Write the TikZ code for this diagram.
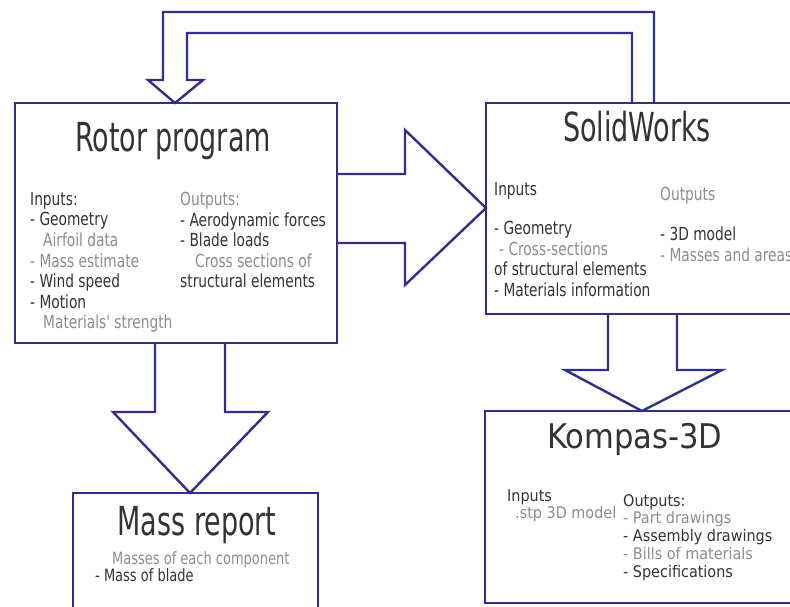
\documentclass[tikz,border=0pt]{standalone}
\usepackage{fontspec}
\setmainfont{DejaVu Sans Condensed}
\newfontfamily\cadfont[FakeStretch=0.75]{DejaVu Sans Condensed}
\newfontfamily\notefont[FakeStretch=0.85]{DejaVu Sans Condensed}
\definecolor{rimblue}{RGB}{48,48,140}
\colorlet{ink}{black!80}
\colorlet{pale}{black!45}
\newcommand{\dimtxt}[1]{\textcolor{pale}{#1}}

\begin{document}
\begin{tikzpicture}[x=1pt, y=-1pt,
        box/.style={draw=rimblue, line width=2.4pt, inner sep=0pt, outer sep=0pt},
        blk/.style={draw=rimblue, line width=2.4pt, line join=miter},
        ttl/.style={font=\cadfont\fontsize{40}{40}\selectfont, text=ink, inner sep=0pt, anchor=base},
        note/.style={font=\notefont\fontsize{18}{20.6}\selectfont, text=ink, align=left, inner sep=0pt, anchor=north west}]
        \useasboundingbox (0,0) rectangle (790,607);
        \clip (0,0) rectangle (790,607);

        \node[box, minimum width=322pt, minimum height=240pt] (rotor) at (176,223) {};
        \node[box, minimum width=314pt, minimum height=211pt] (solid) at (643,208.5) {};
        \node[box, minimum width=245pt, minimum height=127pt] (mass) at (195.5,556.5) {};
        \node[box, minimum width=315pt, minimum height=192pt] (kompas) at (642.5,507) {};

        \node[ttl] (rotorttl) at (173,152) {Rotor program};
        \node[note] (rotorin) at (30,192) {Inputs:\\- Geometry\\\hspace*{13pt}\dimtxt{Airfoil data}\\\dimtxt{- Mass estimate}\\- Wind speed\\- Motion\\\hspace*{13pt}\dimtxt{Materials' strength}};
        \node[note] (rotorout) at (180,192) {\dimtxt{Outputs:}\\- Aerodynamic forces\\- Blade loads\\\hspace*{15pt}\dimtxt{Cross sections of}\\structural elements};

        \node[ttl] (solidttl) at (637,142) {SolidWorks};
        \node[note] (solidinhd) at (494,182) {Inputs};
        \node[note] (solidin) at (494,221) {- Geometry\\\hspace*{5pt}\dimtxt{- Cross-sections}\\of structural elements\\- Materials information};
        \node[note] (solidouthd) at (660,187) {\dimtxt{Outputs}};
        \node[note] (solidout) at (660,227) {- 3D model\\\dimtxt{- Masses and areas}};

        \node[ttl] (massttl) at (197,535) {Mass report};
        \node[note, font=\notefont\fontsize{17}{16}\selectfont] (massin) at (95,551) {\hspace*{17pt}\dimtxt{Masses of each component}\\- Mass of blade};

        \node[ttl, font=\fontsize{34}{34}\selectfont] (kompasttl) at (635,448) {Kompas-3D};
        \node[note, font=\fontsize{16}{14}\selectfont] (kompasin) at (507,490) {Inputs\\\hspace*{8pt}\dimtxt{.stp 3D model}};
        \node[note, font=\fontsize{16}{17.8}\selectfont] (kompasout) at (623,494) {Outputs:\\\dimtxt{- Part drawings}\\- Assembly drawings\\\dimtxt{- Bills of materials}\\- Specifications};

        \draw[blk] (rotor.east |- 0,174) -- (405,174) -- (405,130) -- (solid.west |- 0,208)
            -- (405,285) -- (405,243) -- (rotor.east |- 0,243);
        \draw[blk] (solid.north -| 654,0) -- (654,12) -- (163,12) -- (163,80) -- (148,80)
            -- (rotor.north -| 175,0) -- (203,80) -- (187,80) -- (187,33) -- (632,33) -- (solid.north -| 632,0);
        \draw[blk] (rotor.south -| 155,0) -- (155,412) -- (113,412) -- (mass.north -| 190,0)
            -- (268,412) -- (225,412) -- (rotor.south -| 225,0);
        \draw[blk] (solid.south -| 608,0) -- (608,370) -- (565,370) -- (kompas.north -| 642,0)
            -- (722,370) -- (677,370) -- (solid.south -| 677,0);
\end{tikzpicture}
\end{document}
